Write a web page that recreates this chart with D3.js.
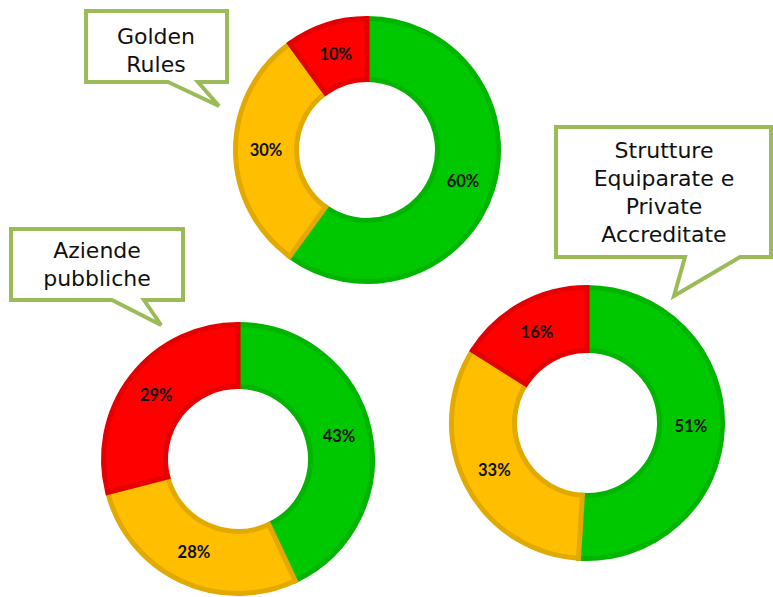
<!DOCTYPE html>
<html>
<head>
<meta charset="utf-8">
<script src="https://cdn.jsdelivr.net/npm/d3@7"></script>
<style>
  body { margin: 0; background: #fff; }
  svg { display: block; }
</style>
</head>
<body>
<div id="chart"></div>
<script>
// data
const categories = ["verde", "giallo", "rosso"];
const groups = ["Golden Rules", "Aziende pubbliche", "Strutture Equiparate e Private Accreditate"];
const goldenRules = [60, 30, 10];
const aziendePubbliche = [43, 28, 29];
const strutture = [51, 33, 16];
const calloutLines = [
  ["Golden", "Rules"],
  ["Aziende", "pubbliche"],
  ["Strutture", "Equiparate e", "Private", "Accreditate"]
];

const width = 773, height = 597;

const fillColor = d3.scaleOrdinal().domain(categories).range(["#00c800", "#ffbf00", "#ff0000"]);
const edgeColor = d3.scaleOrdinal().domain(categories).range(["#00b400", "#e2a900", "#e40000"]);

// layout of each donut and its speech bubble
const layout = [
  { cx: 367, cy: 150, R: 134, r: 68,
    box: { x0: 86, y0: 11, x1: 227, y1: 82, tl: 168, tr: 198, tipX: 219, tipY: 106 },
    textX: 156, textY: 44 },
  { cx: 238, cy: 459, R: 137, r: 70,
    box: { x0: 11, y0: 229, x1: 183, y1: 300, tl: 112, tr: 144, tipX: 161, tipY: 325 },
    textX: 97, textY: 258 },
  { cx: 587, cy: 423, R: 138, r: 70,
    box: { x0: 556, y0: 127, x1: 771, y1: 257, tl: 685, tr: 740, tipX: 674, tipY: 296 },
    textX: 664, textY: 158 }
];

const seriesList = [goldenRules, aziendePubbliche, strutture];

const svg = d3.select("#chart").append("svg")
  .attr("width", width)
  .attr("height", height);

const pie = d3.pie().sort(null).startAngle(0).endAngle(2 * Math.PI);

seriesList.forEach((values, i) => {
  const L = layout[i];
  const rows = categories.map((c, j) => ({ cat: c, value: values[j] }));
  const arcs = pie.value(d => d.value)(rows);

  const arc = d3.arc().innerRadius(L.r + 2.5).outerRadius(L.R - 2.5);
  const labelArc = d3.arc().innerRadius(L.r).outerRadius(L.R);

  const g = svg.append("g")
    .attr("class", "donut")
    .attr("transform", `translate(${L.cx}, ${L.cy})`);

  g.selectAll("path")
    .data(arcs)
    .join("path")
    .attr("d", arc)
    .attr("fill", d => fillColor(d.data.cat))
    .attr("stroke", d => edgeColor(d.data.cat))
    .attr("stroke-width", 5)
    .attr("stroke-linejoin", "miter");

  g.selectAll("text")
    .data(arcs)
    .join("text")
    .attr("transform", d => `translate(${labelArc.centroid(d)})`)
    .attr("text-anchor", "middle")
    .attr("dy", "0.35em")
    .attr("font-family", "Lato, 'DejaVu Sans', sans-serif")
    .attr("font-weight", "bold")
    .attr("font-size", "16.5px")
    .attr("fill", "#111")
    .text(d => d.data.value + "%");
});

// speech bubbles
groups.forEach((name, i) => {
  const L = layout[i], b = L.box;
  const p = d3.path();
  p.moveTo(b.x0, b.y0);
  p.lineTo(b.x1, b.y0);
  p.lineTo(b.x1, b.y1);
  p.lineTo(b.tr, b.y1);
  p.lineTo(b.tipX, b.tipY);
  p.lineTo(b.tl, b.y1);
  p.lineTo(b.x0, b.y1);
  p.closePath();

  const g = svg.append("g").attr("class", "callout");
  g.append("path")
    .attr("d", p.toString())
    .attr("fill", "#fff")
    .attr("stroke", "#9bbb59")
    .attr("stroke-width", 4)
    .attr("stroke-linejoin", "miter");

  // one text per line so the lines stay apart
  g.selectAll("text")
    .data(calloutLines[i])
    .join("text")
    .attr("x", L.textX)
    .attr("y", (d, k) => L.textY + k * 28)
    .attr("text-anchor", "middle")
    .attr("font-family", "'DejaVu Sans', sans-serif")
    .attr("font-size", "22px")
    .attr("fill", "#111")
    .text(d => d);
});
</script>
</body>
</html>
